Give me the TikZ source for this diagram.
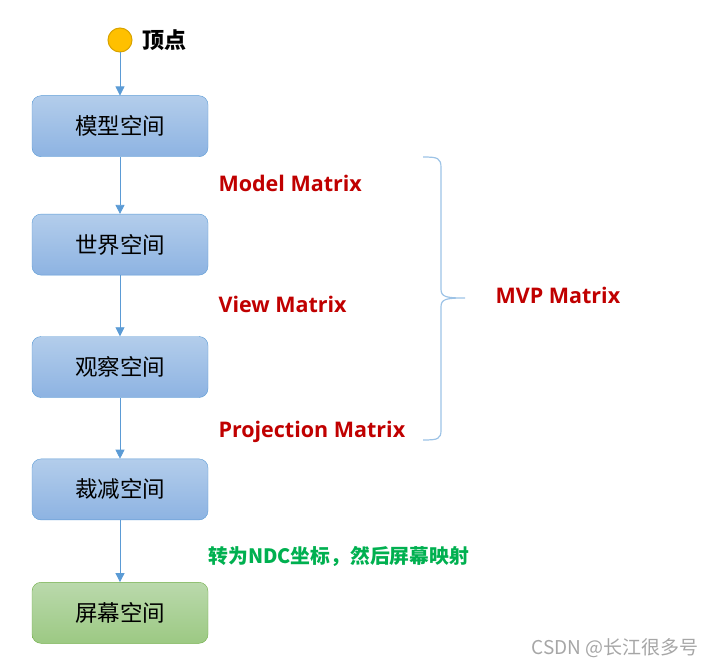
\documentclass[tikz,border=0pt]{standalone}
\usepackage{fontspec}
\setmainfont{Open Sans}
\newfontfamily\cjk{Noto Sans CJK SC}
\usetikzlibrary{positioning,arrows.meta}
\definecolor{boxline}{HTML}{5B9BD5}
\definecolor{boxtop}{HTML}{B3CDEB}
\definecolor{boxbot}{HTML}{8DB3E2}
\definecolor{greenline}{HTML}{70AD47}
\definecolor{greentop}{HTML}{BAD9AC}
\definecolor{greenbot}{HTML}{9CC983}
\definecolor{matred}{HTML}{C00000}
\definecolor{ndcgreen}{HTML}{00B050}
\definecolor{bracecol}{HTML}{9DC3E6}
\definecolor{dotfill}{HTML}{FFC000}
\definecolor{dotline}{HTML}{D9A300}
\tikzset{
  space/.style={draw=boxline, rounded corners=9pt, minimum width=176pt, minimum height=61pt,
    top color=boxtop, bottom color=boxbot, font=\cjk\fontsize{22.5}{26}\selectfont},
  screen/.style={space, draw=greenline, top color=greentop, bottom color=greenbot},
  flow/.style={draw=boxline, line width=0.8pt, -{Triangle[width=9pt,length=9pt]}},
  matlabel/.style={anchor=west, text=matred, font=\bfseries\fontsize{21.5}{24}\selectfont},
}
\begin{document}
\begin{tikzpicture}[x=1pt, y=-1pt, node distance=61pt]
		\useasboundingbox (0,0) rectangle (712,666);
		\node (vtx) [circle, draw=dotline, fill=dotfill, line width=1pt, minimum size=24pt, inner sep=0pt] at (120,40) {};
		\node (vtxlbl) [right=6pt of vtx, font=\cjk\bfseries\fontsize{22}{26}\selectfont] {顶点};
		\node (model) [space, below=43pt of vtx] {模型空间};
		\node (world) [space, below=57pt of model] {世界空间};
		\node (view) [space, below=of world] {观察空间};
		\node (clip) [space, below=of view] {裁减空间};
		\node (scr) [screen, below=62pt of clip] {屏幕空间};

		\draw[flow] (vtx) -- (model);
		\draw[flow] (model) -- (world);
		\draw[flow] (world) -- (view);
		\draw[flow] (view) -- (clip);
		\draw[flow] (clip) -- (scr);

		\node (mm) [matlabel] at (215,183) {Model Matrix};
		\node (vm) [matlabel] at (215,304) {View Matrix};
		\node (pm) [matlabel] at (215,432) {Projection Matrix};
		\node (mvp) [matlabel] at (492,295) {MVP Matrix};
		\node (ndc) [anchor=west, text=ndcgreen, font=\cjk\bfseries\fontsize{19.8}{22}\selectfont] at (205,556) {转为NDC坐标，然后屏幕映射};

		% brace
		\coordinate (btop) at (423,157);
		\coordinate (btip) at (465,298);
		\coordinate (bbot) at (423,440);
		\draw[bracecol, line width=1.2pt] (btop) .. controls (438,157) and (441,158) .. (441,168)
			-- (441,289) .. controls (441,297) and (446,298) .. (btip)
			.. controls (446,298) and (441,299) .. (441,307)
			-- (441,430) .. controls (441,439) and (438,440) .. (bbot);

		\node (mark) [anchor=east, text=gray!70, font=\cjk\fontsize{19}{22}\selectfont] at (702,648) {CSDN @长江很多号};
	\end{tikzpicture}
\end{document}
